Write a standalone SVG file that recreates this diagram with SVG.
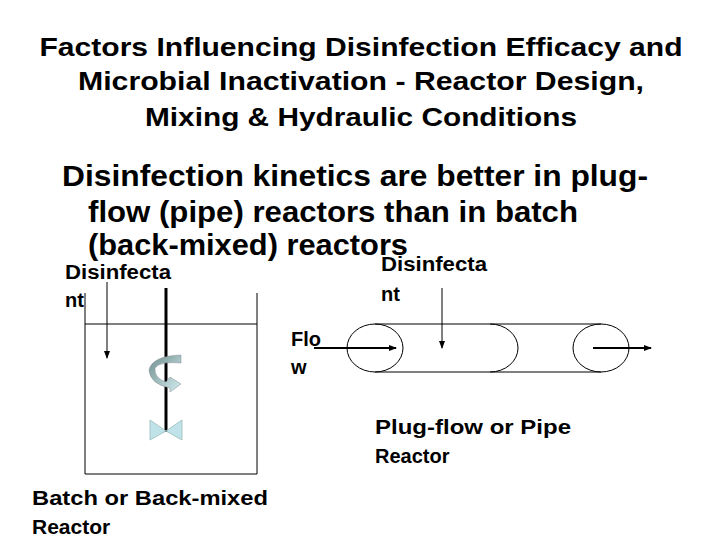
<svg xmlns="http://www.w3.org/2000/svg" width="720" height="540" viewBox="0 0 720 540">
<defs>
<style>
.t{font-family:"Liberation Sans",Arial,sans-serif;font-weight:bold;fill:#000}
.l{stroke:#000;fill:none;stroke-width:1}
</style>
<marker id="a" markerWidth="8" markerHeight="8" refX="7" refY="4" orient="auto" markerUnits="userSpaceOnUse"><path d="M0,1 L8,4 L0,7Z" fill="#000"/></marker>
<linearGradient id="g" x1="0" y1="0" x2="1" y2="1"><stop offset="0" stop-color="#708f8f"/><stop offset="1" stop-color="#d4eef0"/></linearGradient>
</defs>
<rect width="720" height="540" fill="#fff"/>
<g id="title" class="t" font-size="26" text-anchor="middle">
<text x="361" y="56" textLength="643" lengthAdjust="spacingAndGlyphs">Factors Influencing Disinfection Efficacy and</text>
<text x="361" y="90" textLength="566" lengthAdjust="spacingAndGlyphs">Microbial Inactivation - Reactor Design,</text>
<text x="361" y="126" textLength="432" lengthAdjust="spacingAndGlyphs">Mixing &amp; Hydraulic Conditions</text>
</g>
<g id="body" class="t" font-size="30">
<text x="62" y="186" textLength="586" lengthAdjust="spacingAndGlyphs">Disinfection kinetics are better in plug-</text>
<text x="88" y="222" textLength="490" lengthAdjust="spacingAndGlyphs">flow (pipe) reactors than in batch</text>
<text x="88" y="255" textLength="320" lengthAdjust="spacingAndGlyphs">(back-mixed) reactors</text>
</g>
<g id="batch">
<path class="l" d="M85,293 V474 H257 V293 M85,324 H257"/>
<line x1="166" y1="288" x2="166" y2="432" stroke="#000" stroke-width="3"/>
<path d="M181,355 L181,363 Q160,361 155,368 Q154,378 166,382 L170,377 L181,384 L170,392 L170,388 Q150,384 149,370 Q152,356 181,355Z" fill="url(#g)" stroke="#889" stroke-width="0.5"/>
<path d="M150,420 L166,431 L150,440Z M182,420 L166,431 L182,440Z" fill="#bfe3e8" stroke="#9bb" stroke-width="0.8"/>
<text class="t" font-size="20" x="65" y="279" textLength="106" lengthAdjust="spacingAndGlyphs">Disinfecta</text>
<text class="t" font-size="20" x="65" y="307">nt</text>
<text class="t" font-size="21" x="32" y="505" textLength="236" lengthAdjust="spacingAndGlyphs">Batch or Back-mixed</text>
<text class="t" font-size="21" x="32" y="534">Reactor</text>
</g>
<g id="pipe">
<ellipse class="l" cx="375" cy="348" rx="28" ry="24"/>
<path class="l" d="M375,324 H490 A28,24 0 0 1 490,372 H375 M490,324 H601 M490,372 H601"/>
<ellipse class="l" cx="601" cy="348" rx="28" ry="24"/>
<text class="t" font-size="20" x="381" y="271" textLength="106" lengthAdjust="spacingAndGlyphs">Disinfecta</text>
<text class="t" font-size="20" x="381" y="301">nt</text>
<text class="t" font-size="20" x="291" y="346">Flo</text>
<text class="t" font-size="20" x="291" y="374">w</text>
<text class="t" font-size="20" x="375" y="434" textLength="196" lengthAdjust="spacingAndGlyphs">Plug-flow or Pipe</text>
<text class="t" font-size="20" x="375" y="463">Reactor</text>
</g>
<g id="connectors">
<line class="l" x1="107" y1="282" x2="107" y2="358" marker-end="url(#a)"/>
<line class="l" x1="442" y1="288" x2="442" y2="348" marker-end="url(#a)"/>
<line x1="314" y1="348" x2="396" y2="348" stroke="#000" stroke-width="2" marker-end="url(#a)"/>
<line x1="593" y1="348" x2="651" y2="348" stroke="#000" stroke-width="2" marker-end="url(#a)"/>
</g>
</svg>
